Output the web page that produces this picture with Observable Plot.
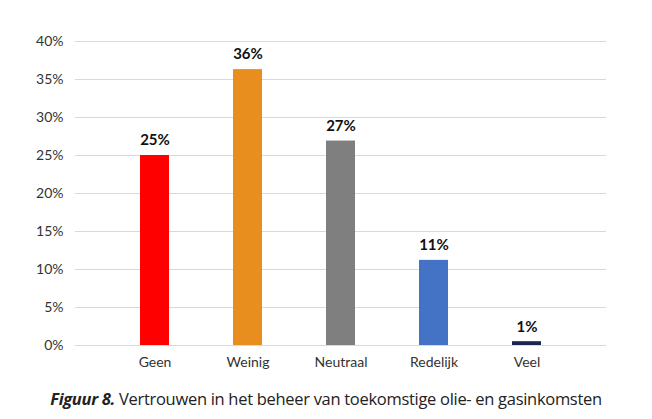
<!DOCTYPE html>
<html>
<head>
<meta charset="utf-8">
<script src="https://cdn.jsdelivr.net/npm/d3@7"></script>
<script src="https://cdn.jsdelivr.net/npm/@observablehq/plot@0.6"></script>
<style>
  body { margin: 0; background: #fff; font-family: Lato, "Open Sans", sans-serif; }
  #caption { width: 652px; text-align: center; font-size: 16.5px; color: #222; margin-top: 12px; font-family: "Open Sans", Lato, sans-serif; letter-spacing: -0.3px; }
</style>
</head>
<body>
<div id="chart"></div>
<div id="caption"><b><i>Figuur 8.</i></b> Vertrouwen in het beheer van toekomstige olie- en gasinkomsten</div>
<script>
const categories = ["Geen", "Weinig", "Neutraal", "Redelijk", "Veel"];
const values = [25, 36.3, 26.9, 11.2, 0.5];
const labels = ["25%", "36%", "27%", "11%", "1%"];
const colors = ["#ff0000", "#e88e1f", "#7f7f7f", "#4472c4", "#1a2554"];
const yTicks = [0, 5, 10, 15, 20, 25, 30, 35, 40];

const data = categories.map((c, i) => ({ cat: c, value: values[i], label: labels[i], color: colors[i] }));

const chart = Plot.plot({
  width: 652,
  height: 375,
  marginLeft: 75,
  marginRight: 46,
  marginTop: 41,
  marginBottom: 30,
  style: { fontFamily: "Lato, 'Open Sans', sans-serif", fontSize: "14px", color: "#333" },
  x: { domain: categories, padding: 0.69, label: null, tickSize: 0, tickPadding: 12 },
  y: { domain: [0, 40], ticks: yTicks, tickFormat: d => d + "%", label: null, tickSize: 0, tickPadding: 12, grid: false },
  marks: [
    Plot.gridY(yTicks, { stroke: "#d9d9d9", strokeOpacity: 1, strokeWidth: 1 }),
    Plot.barY(data, { x: "cat", y: "value", fill: "color" }),
    Plot.text(data, { x: "cat", y: "value", text: "label", dy: -15, fontWeight: "bold", fontSize: 15, fill: "#111" })
  ]
});
document.getElementById("chart").appendChild(chart);
</script>
</body>
</html>
